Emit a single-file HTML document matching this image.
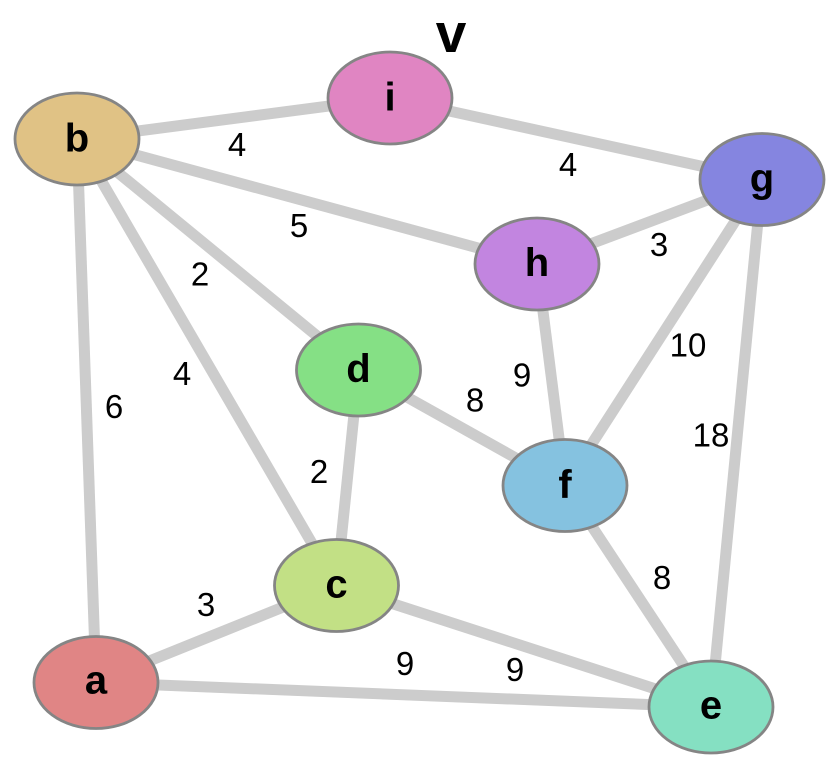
<!DOCTYPE html>
<html><head><meta charset="utf-8"><style>
html,body{margin:0;padding:0;background:#fff;}
svg{display:block;}
.el{font-family:"Liberation Sans",Arial,sans-serif;font-size:33px;fill:#000;text-anchor:middle;}
.nl{font-family:"Liberation Sans",Arial,sans-serif;font-size:40px;font-weight:bold;fill:#000;text-anchor:middle;}
</style></head><body>
<svg width="837" height="767" viewBox="0 0 837 767" xmlns="http://www.w3.org/2000/svg">
<g stroke="#cccccc" stroke-width="11" stroke-linecap="butt">
<line x1="77" y1="139" x2="390" y2="98"/>
<line x1="77" y1="139" x2="537" y2="264"/>
<line x1="77" y1="139" x2="358.5" y2="370"/>
<line x1="77" y1="139" x2="336.5" y2="585.5"/>
<line x1="77" y1="139" x2="96" y2="682.5"/>
<line x1="390" y1="98" x2="762" y2="179.5"/>
<line x1="762" y1="179.5" x2="537" y2="264"/>
<line x1="762" y1="179.5" x2="565" y2="485.5"/>
<line x1="762" y1="179.5" x2="711" y2="707"/>
<line x1="537" y1="264" x2="565" y2="485.5"/>
<line x1="358.5" y1="370" x2="565" y2="485.5"/>
<line x1="358.5" y1="370" x2="336.5" y2="585.5"/>
<line x1="336.5" y1="585.5" x2="96" y2="682.5"/>
<line x1="336.5" y1="585.5" x2="711" y2="707"/>
<line x1="96" y1="682.5" x2="711" y2="707"/>
<line x1="565" y1="485.5" x2="711" y2="707"/>
</g>
<g class="el">
<text class="el" x="237" y="156">4</text>
<text class="el" x="299" y="237">5</text>
<text class="el" x="200" y="285.5">2</text>
<text class="el" x="568" y="176">4</text>
<text class="el" x="659" y="256">3</text>
<text class="el" x="688" y="356.5">10</text>
<text class="el" x="522" y="386.5">9</text>
<text class="el" x="475" y="411.5">8</text>
<text class="el" x="711" y="446.5">18</text>
<text class="el" x="114" y="418">6</text>
<text class="el" x="182" y="385">4</text>
<text class="el" x="319" y="483">2</text>
<text class="el" x="206" y="616">3</text>
<text class="el" x="405" y="675">9</text>
<text class="el" x="662" y="589">8</text>
<text class="el" x="515" y="681">9</text>
</g>
<g stroke="#858585" stroke-width="2.8">
<ellipse cx="77" cy="139" rx="62" ry="46" fill="hsl(40,60%,70%)"/>
<ellipse cx="390" cy="98" rx="62" ry="46" fill="hsl(320,60%,70%)"/>
<ellipse cx="762" cy="179.5" rx="62" ry="46" fill="hsl(240,60%,70%)"/>
<ellipse cx="537" cy="264" rx="62" ry="46" fill="hsl(280,60%,70%)"/>
<ellipse cx="358.5" cy="370" rx="62" ry="46" fill="hsl(120,60%,70%)"/>
<ellipse cx="565" cy="485.5" rx="62" ry="46" fill="hsl(200,60%,70%)"/>
<ellipse cx="336.5" cy="585.5" rx="62" ry="46" fill="hsl(80,60%,70%)"/>
<ellipse cx="96" cy="682.5" rx="62" ry="46" fill="hsl(0,60%,70%)"/>
<ellipse cx="711" cy="707" rx="62" ry="46" fill="hsl(160,60%,70%)"/>
</g>
<text class="nl" x="77" y="151.5">b</text>
<text class="nl" x="390" y="110.5">i</text>
<text class="nl" x="762" y="191.5">g</text>
<text class="nl" x="537" y="276">h</text>
<text class="nl" x="358.5" y="382">d</text>
<text class="nl" x="565" y="498">f</text>
<text class="nl" x="336.5" y="597.5">c</text>
<text class="nl" x="96" y="693.5">a</text>
<text class="nl" x="711" y="718.5">e</text>
<text x="451" y="52" font-family="Liberation Sans, Arial, sans-serif" font-size="55" font-weight="bold" text-anchor="middle" fill="#000">v</text>
</svg>
</body></html>
